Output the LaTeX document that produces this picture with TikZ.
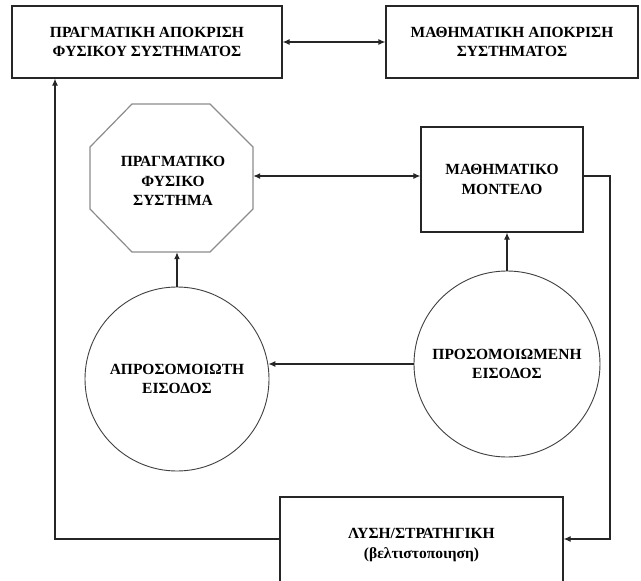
\documentclass[tikz,border=0pt]{standalone}
\usepackage{fontspec}
\setmainfont{Liberation Serif}
\usetikzlibrary{arrows.meta,calc}
\begin{document}
\begin{tikzpicture}[x=1pt,y=-1pt,
  txt/.style={font=\bfseries\fontsize{15.5}{19.5}\selectfont, align=center, text=black},
  box/.style={draw=black!85, line width=1.2pt, txt, inner sep=0pt},
  circ/.style={circle, draw=black!75, line width=0.9pt, txt, inner sep=0pt},
  octline/.style={draw=black!45, line width=1.2pt},
  conn/.style={draw=black!85, line width=1.2pt, -{Latex[length=7pt,width=6pt]}},
  both/.style={draw=black!85, line width=1.2pt, {Latex[length=7pt,width=6pt]}-{Latex[length=7pt,width=6pt]}}]
\useasboundingbox (0,0) rectangle (641,581);
\fill[white] (0,0) rectangle (641,581);
\clip (0,0) rectangle (641,581);

% top boxes
\node[box, minimum width=270pt, minimum height=72pt] (phys) at (147,42) {ΠΡΑΓΜΑΤΙΚΗ ΑΠΟΚΡΙΣΗ\\ΦΥΣΙΚΟΥ ΣΥΣΤΗΜΑΤΟΣ};
\node[box, minimum width=252pt, minimum height=72pt] (math) at (512,42) {ΜΑΘΗΜΑΤΙΚΗ ΑΠΟΚΡΙΣΗ\\ΣΥΣΤΗΜΑΤΟΣ};

% octagon
\draw[octline] (132,104) -- (210,104) -- (253,147) -- (253,209) -- (210,252) -- (132,252) -- (90,209) -- (90,147) -- cycle;
\node[minimum width=163pt, minimum height=148pt, inner sep=0pt] (oct) at (171.5,178) {};
\node[txt] (octlbl) at (173,181) {ΠΡΑΓΜΑΤΙΚΟ\\ΦΥΣΙΚΟ\\ΣΥΣΤΗΜΑ};

% model
\node[box, minimum width=162pt, minimum height=105pt] (model) at (502,179.5) {ΜΑΘΗΜΑΤΙΚΟ\\ΜΟΝΤΕΛΟ};

% circles
\node[circ, minimum size=184pt] (unsim) at (177,379) {ΑΠΡΟΣΟΜΟΙΩΤΗ\\ΕΙΣΟΔΟΣ};
\node[circ, minimum size=186pt] (sim) at (507,364) {ΠΡΟΣΟΜΟΙΩΜΕΝΗ\\ΕΙΣΟΔΟΣ};

% bottom box
\node[box, minimum width=283pt, minimum height=96pt] (sol) at (421.5,545) {ΛΥΣΗ/ΣΤΡΑΤΗΓΙΚΗ\\(βελτιστοποιηση)};

% helper coordinates
\coordinate (rt) at (610,0);
\coordinate (lf) at (55,0);
\coordinate (modE) at ([yshift=3.5pt]model.east);
\coordinate (solE) at ([yshift=6pt]sol.east);
\coordinate (solW) at ([yshift=6pt]sol.west);
\coordinate (octE) at ([yshift=2pt]oct.east);

% connectors
\draw[both] (phys.east) -- (math.west);
\draw[both] (octE) -- (octE -| model.west);
\draw[conn] (unsim.north) -- (unsim.north |- oct.south);
\draw[conn] (sim.north) -- (sim.north |- model.south);
\draw[conn] (sim.west) -- (sim.west -| unsim.9);
\draw[conn] (modE) -| (solE -| rt) -- (solE);
\draw[conn] (solW) -- (solW -| lf) -- (lf |- phys.south);
\end{tikzpicture}
\end{document}
